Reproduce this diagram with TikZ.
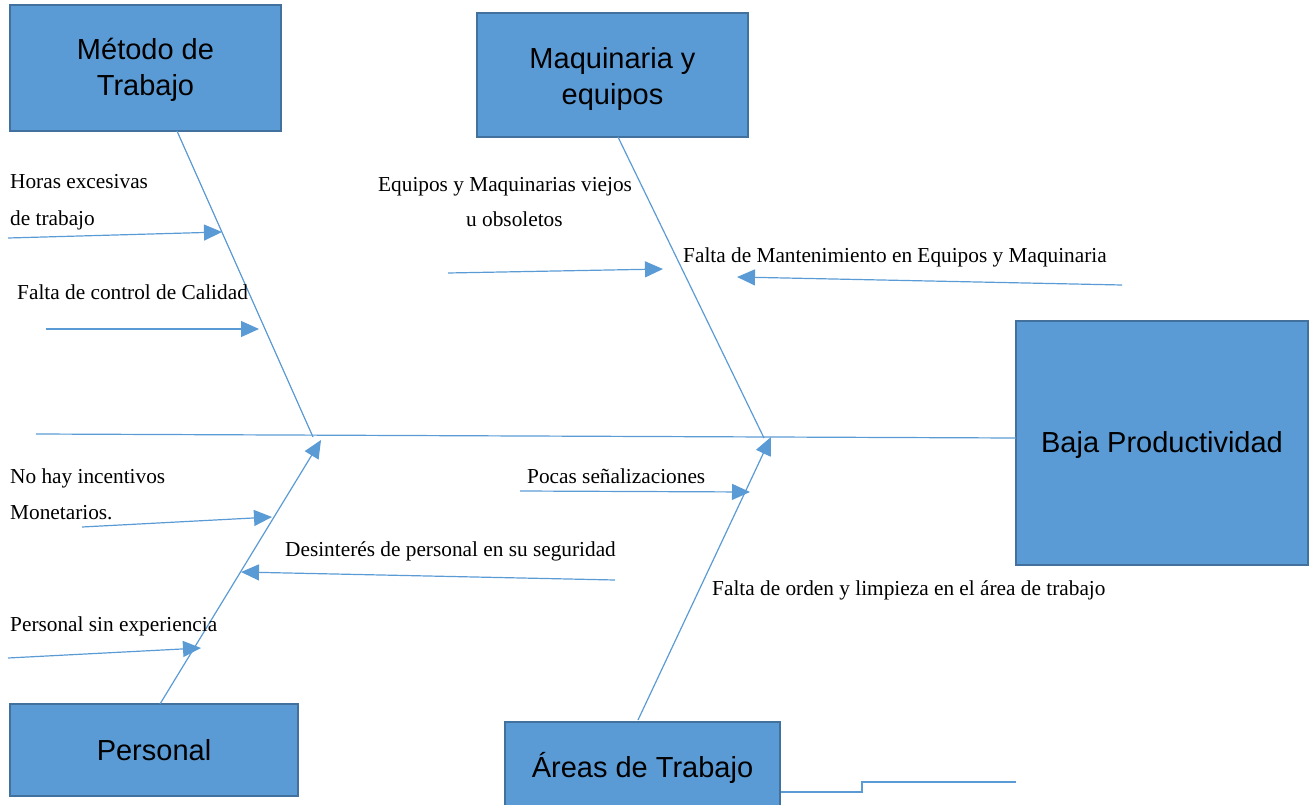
\documentclass[tikz,border=0pt]{standalone}
\usepackage{fontspec}
\setmainfont{Liberation Serif}
\newfontfamily\boxfont{Liberation Sans}
\usetikzlibrary{arrows.meta}
\definecolor{fishblue}{HTML}{5B9BD5}
\definecolor{fishedge}{HTML}{41719C}
\tikzset{
  catbox/.style={draw=fishedge, fill=fishblue, line width=2.4pt, align=center,
    font=\boxfont\fontsize{29}{36}\selectfont, inner sep=0pt},
  bone/.style={draw=fishblue, line width=1.2pt},
  cause/.style={draw=fishblue, line width=1.2pt, -{Triangle[length=18pt,width=16pt]}},
  lbl/.style={anchor=base west, inner sep=0pt, font=\fontsize{21.3}{26}\selectfont},
}
\begin{document}
\begin{tikzpicture}[x=1pt,y=-1pt]
\useasboundingbox (0,0) rectangle (1316,805);
% boxes
\node[catbox, minimum width=271pt, minimum height=126pt] (metodo) at (145.5,68) {};
\node[font=\boxfont\fontsize{29}{36}\selectfont, align=center, inner sep=0pt] (metodoT) at (145.5,70) {Método de\\Trabajo};
\node[catbox, minimum width=271pt, minimum height=124pt] (maq) at (612.5,75) {};
\node[font=\boxfont\fontsize{29}{36}\selectfont, align=center, inner sep=0pt] (maqT) at (612.5,79) {Maquinaria y\\equipos};
\node[catbox, minimum width=292pt, minimum height=244pt] (baja) at (1162,443) {};
\node[font=\boxfont\fontsize{29}{36}\selectfont, inner sep=0pt] (bajaT) at (1162,445) {Baja Productividad};
\node[catbox, minimum width=288pt, minimum height=92pt] (personal) at (154,750) {Personal};
\node[catbox, minimum width=275pt, minimum height=88pt] (areas) at (642.5,766) {};
\node[font=\boxfont\fontsize{29}{36}\selectfont, inner sep=0pt] (areasT) at (642.5,768) {Áreas de Trabajo};
% spine
\coordinate (spineL) at (36,434);
\coordinate (spineR) at (1016,438);
\draw[bone] (spineL) -- (spineR);
% bone anchor points
\coordinate (mB) at (177,131);
\coordinate (mE) at (313,437);
\coordinate (qB) at (618,137);
\coordinate (qE) at (764,438);
\coordinate (pB) at (160,704);
\coordinate (pE) at (321,440);
\coordinate (aB) at (638,720);
\coordinate (aE) at (771,437);
\draw[bone] (mB) -- (mE);
\draw[bone] (qB) -- (qE);
\draw[cause] (pB) -- (pE);
\draw[cause] (aB) -- (aE);
% cause arrows
\coordinate (c1s) at (8,238);   \coordinate (c1e) at (222,232);
\coordinate (c2s) at (46,329);  \coordinate (c2e) at (259,329);
\coordinate (c3s) at (82,527);  \coordinate (c3e) at (272,517);
\coordinate (c4s) at (615,580); \coordinate (c4e) at (241,572);
\coordinate (c5s) at (8,658);   \coordinate (c5e) at (201,648);
\coordinate (c6s) at (448,273); \coordinate (c6e) at (663,269);
\coordinate (c7s) at (1122,285);\coordinate (c7e) at (737,277);
\coordinate (c8s) at (520,491); \coordinate (c8e) at (750,492);
\draw[cause] (c1s) -- (c1e);
\draw[cause] (c2s) -- (c2e);
\draw[cause] (c3s) -- (c3e);
\draw[cause] (c4s) -- (c4e);
\draw[cause] (c5s) -- (c5e);
\draw[cause] (c6s) -- (c6e);
\draw[cause] (c7s) -- (c7e);
\draw[cause] (c8s) -- (c8e);
% labels
\node[lbl] (t1a) at (10,189) {Horas excesivas};
\node[lbl] (t1b) at (10,225) {de trabajo};
\node[lbl] (t2) at (17,299) {Falta de control de Calidad};
\node[lbl] (t3a) at (10,483) {No hay incentivos};
\node[lbl] (t3b) at (10,519) {Monetarios.};
\node[lbl] (t4) at (285,556) {Desinterés de personal en su seguridad};
\node[lbl] (t5) at (10,631) {Personal sin experiencia};
\node[lbl] (t6a) at (378,191) {Equipos y Maquinarias viejos};
\node[lbl] (t6b) at (466,226) {u obsoletos};
\node[lbl] (t7) at (683,262) {Falta de Mantenimiento en Equipos y Maquinaria};
\node[lbl] (t8) at (527,483) {Pocas señalizaciones};
\node[lbl] (t9) at (712,595) {Falta de orden y limpieza en el área de trabajo};
% bottom right line
\coordinate (s1) at (862,792);
\coordinate (s2) at (862,782);
\coordinate (s3) at (1016,782);
\draw[bone] (areas.east |- s1) -- (s1) -- (s2) -- (s3);
\end{tikzpicture}
\end{document}
